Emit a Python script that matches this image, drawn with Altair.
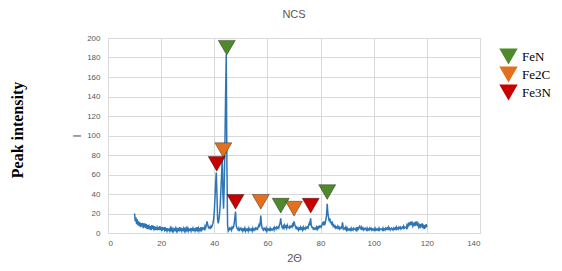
import altair as alt
import pandas as pd

# 2-theta grid: 10 .. 120 in 0.25 steps
start, step = 10.0, 0.25
intensity = [
    20, 12, 16, 9,   14, 8, 12, 7,   11, 6, 10, 8,   9, 5, 10, 6,   8, 5, 9, 4,
    8, 4, 7, 5,      7, 3, 8, 4,     6, 4, 7, 3,     6, 3, 6, 4,    5, 3, 7, 3,
    6, 2, 5, 4,      5, 3, 6, 2,     5, 2, 4, 3,     4, 2, 5, 3,    5, 2, 4, 2,
    4, 3, 5, 2,      4, 2, 4, 3,     6, 2, 4, 2,     4, 3, 5, 2,    4, 2, 5, 3,
    5, 2, 4, 3,      4, 2, 5, 2,     5, 3, 4, 2,     4, 2, 6, 3,    5, 2, 4, 3,
    6, 3, 5, 4,      5, 4, 7, 5,     8, 12, 9, 6,    5, 6, 5, 7,    6, 8, 10, 14,
    22, 35, 50, 62,  40, 14, 10, 14, 20, 30, 45, 60, 78, 40, 25, 50, 90, 140, 183, 70,
    8, 2, 3, 5,      4, 5, 3, 6,     5, 6, 10, 16,   22, 8, 5, 4,   3, 5, 3, 4,
    5, 3, 4, 2,      4, 3, 5, 2,     4, 3, 4, 2,     5, 3, 4, 3,    4, 2, 5, 3,
    4, 3, 5, 4,      5, 4, 6, 8,     6, 10, 18, 9,   5, 4, 3, 5,    4, 3, 5, 2,
    4, 3, 4, 3,      5, 3, 4, 3,     4, 5, 3, 6,     5, 4, 6, 5,    6, 5, 8, 10,
    15, 9, 6, 5,     7, 5, 8, 6,     7, 5, 8, 6,     6, 5, 7, 6,    7, 6, 9, 8,
    12, 9, 7, 5,     6, 4, 5, 3,     5, 4, 6, 4,     5, 3, 6, 4,    5, 4, 6, 5,
    6, 5, 8, 10,     8, 15, 8, 6,    6, 4, 5, 4,     5, 4, 6, 4,    6, 5, 7, 6,
    7, 6, 8, 10,     9, 12, 8, 10,   14, 18, 30, 20, 16, 12, 15, 10, 12, 8, 10, 7,
    8, 6, 7, 5,      6, 5, 7, 5,     6, 4, 5, 6,     5, 11, 6, 4,   5, 4, 6, 3,
    5, 3, 4, 3,      4, 3, 5, 3,     4, 3, 5, 4,     4, 3, 6, 3,    5, 4, 6, 7,
    5, 4, 6, 4,      5, 3, 4, 5,     4, 3, 5, 3,     4, 3, 5, 4,    5, 3, 4, 3,
    4, 3, 5, 3,      4, 3, 4, 3,     5, 3, 4, 4,     4, 3, 5, 3,    4, 3, 5, 4,
    5, 4, 6, 4,      5, 3, 4, 5,     4, 3, 5, 4,     5, 4, 6, 4,    5, 4, 6, 5,
    6, 4, 5, 6,      5, 7, 5, 6,     6, 5, 8, 6,     9, 7, 11, 8,   12, 8, 10, 7,
    9, 11, 7, 10,    8, 12, 7, 9,    6, 8, 5, 9,     6, 10, 5, 7,   4, 8, 5, 9,
    6,
]
two_theta = [start + i * step for i in range(len(intensity))]

marker_x = [44.7, 65.0, 82.5, 43.4, 57.5, 70.0, 40.9, 48.0, 76.3]
marker_y = [190, 28, 42, 85, 32, 25, 71, 32, 28]
marker_phase = ["FeN", "FeN", "FeN", "Fe2C", "Fe2C", "Fe2C", "Fe3N", "Fe3N", "Fe3N"]

phases = ["FeN", "Fe2C", "Fe3N"]
phase_colors = ["#4e8a2c", "#e2701f", "#c80000"]

x_ticks = [0, 20, 40, 60, 80, 100, 120, 140]
y_ticks = [0, 20, 40, 60, 80, 100, 120, 140, 160, 180, 200]

line_df = pd.DataFrame({"x": two_theta, "y": intensity})
mk_df = pd.DataFrame({"x": marker_x, "y": marker_y, "phase": marker_phase})

gray = "#595959"
xscale = alt.Scale(domain=[0, 140], nice=False)
yscale = alt.Scale(domain=[0, 200], nice=False)

x_axis = alt.Axis(values=x_ticks, grid=True, domain=False, ticks=False,
                  labelFontSize=8, labelColor=gray, labelPadding=6, labelOverlap=False,
                  titleFontSize=11, titleColor=gray, titleFontWeight="normal",
                  titlePadding=5, gridColor="#d9d9d9")
y_axis = alt.Axis(values=y_ticks, grid=True, domain=False, ticks=False,
                  labelFontSize=8, labelColor=gray, labelPadding=8, labelOverlap=False,
                  titleFontSize=11, titleColor=gray, titleFontWeight="normal",
                  titlePadding=4, gridColor="#d9d9d9")

X = alt.X("x:Q", scale=xscale, title="2Θ", axis=x_axis)
Y = alt.Y("y:Q", scale=yscale, title="I", axis=y_axis)

line = alt.Chart(line_df).mark_line(color="#2e75b6", strokeWidth=1.5).encode(x=X, y=Y)

markers = alt.Chart(mk_df).mark_point(shape="triangle-down", filled=True, size=290,
                                       opacity=1, stroke="#000000", strokeOpacity=0.35,
                                       strokeWidth=1).encode(
    x=X,
    y=Y,
    color=alt.Color("phase:N", scale=alt.Scale(domain=phases, range=phase_colors),
                    legend=alt.Legend(title=None, orient="none", legendX=391, legendY=9,
                                      symbolType="triangle-down", symbolSize=340,
                                      symbolStrokeWidth=0, symbolOpacity=1,
                                      labelFont="Liberation Serif", labelFontSize=13,
                                      labelColor="#000000", labelOffset=4, rowPadding=0)),
)

side_label = alt.Chart(pd.DataFrame({"t": ["Peak intensity"]})).mark_text(
    font="Liberation Serif", fontSize=16, fontWeight="bold", angle=270, color="#000000",
    align="center", baseline="middle").encode(
    text="t:N", x=alt.value(-90), y=alt.value(92))

chart = alt.layer(line, markers, side_label).properties(
    width=372, height=195,
    title=alt.Title("NCS", fontSize=11, color=gray, fontWeight="normal", offset=14, anchor="middle"),
    autosize=alt.AutoSizeParams(type="none"),
    padding={"left": 100, "top": 30, "right": 74, "bottom": 30},
).configure_view(stroke=None).configure_axis(labelOverlap=False).configure(font="Liberation Sans")

chart.save("out.html", embed_options={"renderer": "svg", "actions": False})
